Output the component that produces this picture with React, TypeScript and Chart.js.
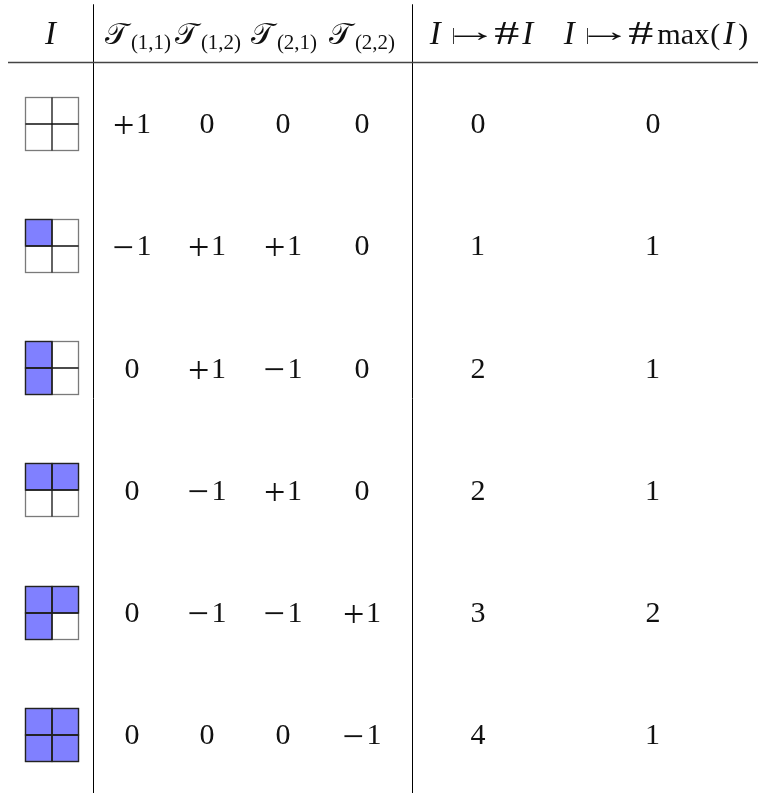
import React, { useEffect, useRef } from "react";
import { Chart, registerables } from "chart.js";

Chart.register(...registerables);

// ---------- data ----------
// filled cells [row, col] of each 2x2 index set I
const ROW_SETS: number[][][] = [
  [],
  [[0, 0]],
  [[0, 0], [1, 0]],
  [[0, 0], [0, 1]],
  [[0, 0], [0, 1], [1, 0]],
  [[0, 0], [0, 1], [1, 0], [1, 1]],
];
const T11 = [1, -1, 0, 0, 0, 0];
const T12 = [0, 1, 1, -1, -1, 0];
const T21 = [0, 1, -1, 1, -1, 0];
const T22 = [0, 0, 0, 0, 1, -1];
const COUNT = [0, 1, 2, 2, 3, 4];
const COUNT_MAX = [0, 1, 1, 1, 2, 1];
const SUBSCRIPTS = ["(1,1)", "(1,2)", "(2,1)", "(2,2)"];

// ---------- layout ----------
const W = 761;
const H = 793;
const COL_X = [51, 132, 207, 283, 362, 478, 653];
const HEAD_X = [51, 138, 208, 284, 362, 482, 655];
const RULE_X = [93, 412];
const HLINE = { from: 8, to: 758, row: -0.5 };
const HEAD_ROW = -0.65;
const Y_MIN = -1.01;
const Y_MAX = 5.48;
const ICON_HALF = 26.5;
const SERIF = "'Liberation Serif', 'DejaVu Serif', serif";
const F_MAIN = `30px ${SERIF}`;
const F_IT = `italic 33px ${SERIF}`;
const F_SUB = `21px ${SERIF}`;
const F_CAL = `30px ${SERIF}`;
const F_SIGN = `38px ${SERIF}`;
const F_BAR = `17px ${SERIF}`;
const F_HASH = `34px ${SERIF}`;

// a run of text: ink width target (optional), gap after ink, vertical shift, or ink-centre height
type Run = { t: string; f: string; ink?: number; gap?: number; dy?: number; vc?: number };

function drawRuns(ctx: CanvasRenderingContext2D, runs: Run[], cx: number, base: number) {
  const info = runs.map((r) => {
    ctx.font = r.f;
    const m = ctx.measureText(r.t);
    const L = m.actualBoundingBoxLeft;
    const R = m.actualBoundingBoxRight;
    const nat = L + R;
    const sx = r.ink ? r.ink / nat : 1;
    let dy = r.dy || 0;
    if (r.vc !== undefined) {
      const c = (m.actualBoundingBoxDescent - m.actualBoundingBoxAscent) / 2;
      dy = -r.vc - c;
    }
    return { L, sx, w: nat * sx, dy };
  });
  const total = info.reduce((s, o, i) => s + o.w + (i < runs.length - 1 ? runs[i].gap || 0 : 0), 0);
  let x = cx - total / 2;
  runs.forEach((r, i) => {
    const o = info[i];
    ctx.save();
    ctx.font = r.f;
    ctx.translate(x + o.L * o.sx, base + o.dy);
    ctx.scale(o.sx, 1);
    ctx.fillText(r.t, 0, 0);
    ctx.restore();
    x += o.w + (r.gap || 0);
  });
}

function signRuns(v: number): Run[] {
  if (v > 0) return [{ t: "+", f: F_SIGN, ink: 19, gap: 5, vc: 8 }, { t: "1", f: F_MAIN }];
  if (v < 0) return [{ t: "\u2212", f: F_SIGN, ink: 19, gap: 6, vc: 8 }, { t: "1", f: F_MAIN }];
  return [{ t: "0", f: F_MAIN }];
}

// "↦" composed of a short bar and a light arrow
const MAPSTO: Run[] = [
  { t: "|", f: F_BAR, vc: 8, gap: -0.5 },
  { t: "\u2192", f: F_MAIN, ink: 33, vc: 8, gap: 7 },
];

const tablePlugin = {
  id: "tablePlugin",
  afterDatasetsDraw(chart: any) {
    const { ctx, scales } = chart;
    const xs = scales.x;
    const ys = scales.y;
    ctx.save();
    ctx.textBaseline = "alphabetic";
    ctx.textAlign = "left";
    ctx.fillStyle = "#111";

    // vertical rules
    ctx.strokeStyle = "#000";
    ctx.lineWidth = 1;
    RULE_X.forEach((rx) => {
      const px = Math.round(xs.getPixelForValue(rx)) + 0.5;
      ctx.beginPath();
      ctx.moveTo(px, ys.getPixelForValue(-0.975));
      ctx.lineTo(px, ys.getPixelForValue(Y_MAX));
      ctx.stroke();
    });
    // horizontal rule
    ctx.strokeStyle = "#444";
    ctx.lineWidth = 1.3;
    const hy = Math.round(ys.getPixelForValue(HLINE.row)) + 0.5;
    ctx.beginPath();
    ctx.moveTo(xs.getPixelForValue(HLINE.from), hy);
    ctx.lineTo(xs.getPixelForValue(HLINE.to), hy);
    ctx.stroke();

    // header
    const hb = ys.getPixelForValue(HEAD_ROW);
    drawRuns(ctx, [{ t: "I", f: F_IT }], xs.getPixelForValue(HEAD_X[0]), hb);
    SUBSCRIPTS.forEach((s, i) => {
      drawRuns(
        ctx,
        [
          { t: "\u{1D4AF}", f: F_CAL, gap: -1 },
          { t: s, f: F_SUB, dy: 5 },
        ],
        xs.getPixelForValue(HEAD_X[i + 1]),
        hb
      );
    });
    drawRuns(
      ctx,
      [
        { t: "I", f: F_IT, gap: 10 },
        ...MAPSTO,
        { t: "#", f: F_HASH, ink: 25, gap: 2 },
        { t: "I", f: F_IT },
      ],
      xs.getPixelForValue(HEAD_X[5]),
      hb
    );
    drawRuns(
      ctx,
      [
        { t: "I", f: F_IT, gap: 10 },
        ...MAPSTO,
        { t: "#", f: F_HASH, ink: 25, gap: 4 },
        { t: "max", f: F_MAIN, ink: 52, gap: 2 },
        { t: "(", f: F_MAIN, gap: 2 },
        { t: "I", f: F_IT, gap: 2 },
        { t: ")", f: F_MAIN },
      ],
      xs.getPixelForValue(HEAD_X[6]),
      hb
    );

    // cells
    chart.data.datasets.forEach((ds: any, di: number) => {
      const meta = chart.getDatasetMeta(di);
      meta.data.forEach((pt: any, i: number) => {
        if (ds.kind === "icon") {
          const half = xs.getPixelForValue(ICON_HALF) - xs.getPixelForValue(0);
          const s = half;
          const x0 = Math.round(pt.x - half) + 0.5;
          const y0 = Math.round(pt.y - half) + 0.5;
          const filled = ROW_SETS[i];
          ctx.fillStyle = "#8080ff";
          filled.forEach(([r, c]) => ctx.fillRect(x0 + c * s, y0 + r * s, s, s));
          ctx.strokeStyle = "#7a7a7a";
          ctx.lineWidth = 1.3;
          ctx.strokeRect(x0, y0, 2 * s, 2 * s);
          ctx.strokeStyle = "#111";
          ctx.beginPath();
          ctx.moveTo(x0 + s, y0);
          ctx.lineTo(x0 + s, y0 + 2 * s);
          ctx.moveTo(x0, y0 + s);
          ctx.lineTo(x0 + 2 * s, y0 + s);
          ctx.stroke();
          ctx.strokeStyle = "#222";
          filled.forEach(([r, c]) => ctx.strokeRect(x0 + c * s, y0 + r * s, s, s));
          ctx.fillStyle = "#111";
        } else {
          const v = ds.data[i].v;
          const runs = ds.kind === "sign" ? signRuns(v) : [{ t: String(v), f: F_MAIN }];
          drawRuns(ctx, runs, pt.x, pt.y + 9.8);
        }
      });
    });
    ctx.restore();
  },
};

function colData(values: number[], col: number) {
  return values.map((v, i) => ({ x: COL_X[col], y: i, v }));
}

export default function App() {
  const ref = useRef<HTMLCanvasElement | null>(null);
  useEffect(() => {
    if (!ref.current) return;
    const datasets: any[] = [
      { kind: "icon", data: ROW_SETS.map((_, i) => ({ x: COL_X[0], y: i })) },
      { kind: "sign", data: colData(T11, 1) },
      { kind: "sign", data: colData(T12, 2) },
      { kind: "sign", data: colData(T21, 3) },
      { kind: "sign", data: colData(T22, 4) },
      { kind: "num", data: colData(COUNT, 5) },
      { kind: "num", data: colData(COUNT_MAX, 6) },
    ].map((d) => ({ ...d, pointRadius: 0, pointHoverRadius: 0, showLine: false }));
    const chart = new Chart(ref.current, {
      type: "scatter",
      data: { datasets },
      options: {
        responsive: false,
        animation: false,
        devicePixelRatio: 1,
        layout: { padding: 0 },
        events: [],
        plugins: { legend: { display: false }, tooltip: { enabled: false } },
        scales: {
          x: { type: "linear", display: false, min: 0, max: W },
          y: { type: "linear", display: false, min: Y_MIN, max: Y_MAX, reverse: true },
        },
      },
      plugins: [tablePlugin],
    } as any);
    return () => chart.destroy();
  }, []);
  return (
    <div style={{ position: "absolute", left: 0, top: 0, width: W, height: H, background: "#fff" }}>
      <canvas ref={ref} width={W} height={H} style={{ display: "block" }} />
    </div>
  );
}
